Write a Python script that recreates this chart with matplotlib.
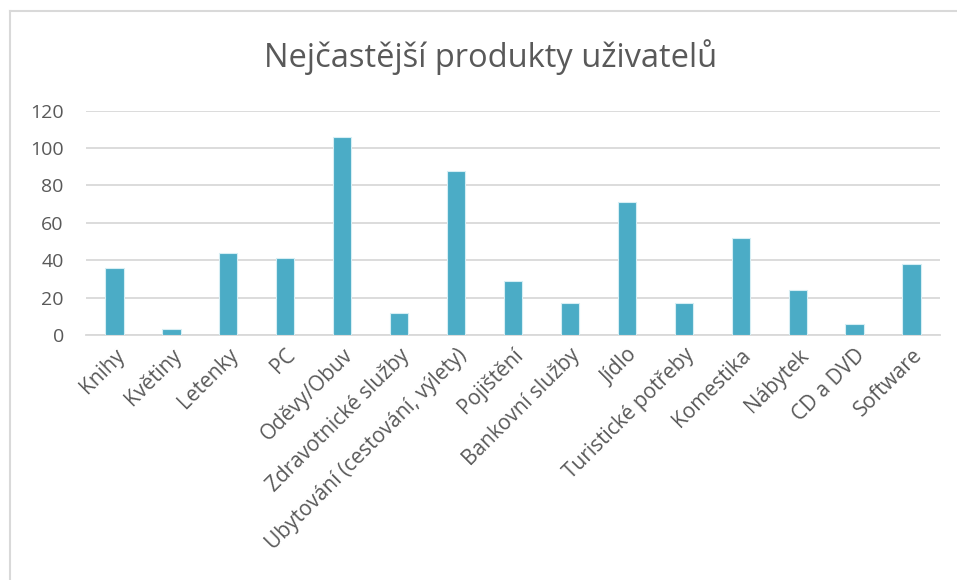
import matplotlib
matplotlib.use("Agg")
import matplotlib.pyplot as plt
from matplotlib.lines import Line2D

categories = ["Knihy", "Květiny", "Letenky", "PC", "Oděvy/Obuv", "Zdravotnické služby",
              "Ubytování (cestování, výlety)", "Pojištění", "Bankovní služby", "Jídlo",
              "Turistické potřeby", "Komestika", "Nábytek", "CD a DVD", "Software"]
values = [36, 3, 44, 41, 106, 12, 88, 29, 17, 71, 17, 52, 24, 6, 38]
yticks = [0, 20, 40, 60, 80, 100, 120]
title = "Nejčastější produkty uživatelů"

plt.rcParams['font.family'] = ['Open Sans', 'DejaVu Sans']
W, H = 957, 580
fig = plt.figure(figsize=(W / 100, H / 100), dpi=100)
ax = fig.add_axes([86 / W, 1 - 335 / H, (940 - 86) / W, (335 - 110.7) / H])

x = list(range(len(categories)))
ax.bar(x, values, width=0.32, color="#4BACC6", edgecolor="#D6EEF4", linewidth=0.8, zorder=3)
ax.set_xlim(-0.5, len(categories) - 0.5)
ax.set_ylim(0, 120)
ax.set_yticks(yticks)
ax.set_yticklabels([str(v) for v in yticks], fontsize=14, color="#595959")
ax.grid(axis="y", color="#D9D9D9", linewidth=1.3, zorder=0)
for s in ["top", "right", "left"]:
    ax.spines[s].set_visible(False)
ax.spines["bottom"].set_color("#D9D9D9")
ax.spines["bottom"].set_linewidth(1.3)
ax.tick_params(axis="both", length=0)
ax.tick_params(axis="y", pad=16)
ax.set_xticks(x)
ax.set_xticklabels(categories, rotation=45, ha="right", va="top", rotation_mode="anchor",
                   fontsize=15, color="#595959")
ax.tick_params(axis="x", pad=7)

fig.text(491 / W, 1 - 57 / H, title, ha="center", va="center", fontsize=23.5, color="#595959")

# chart border (left and top visible)
fig.add_artist(Line2D([9.5 / W, 9.5 / W], [0, 1 - 11 / H], transform=fig.transFigure,
                      color="#D9D9D9", linewidth=1.5))
fig.add_artist(Line2D([9.5 / W, 1], [1 - 11 / H, 1 - 11 / H], transform=fig.transFigure,
                      color="#D9D9D9", linewidth=1.5))

fig.savefig("out.png", dpi=100)
